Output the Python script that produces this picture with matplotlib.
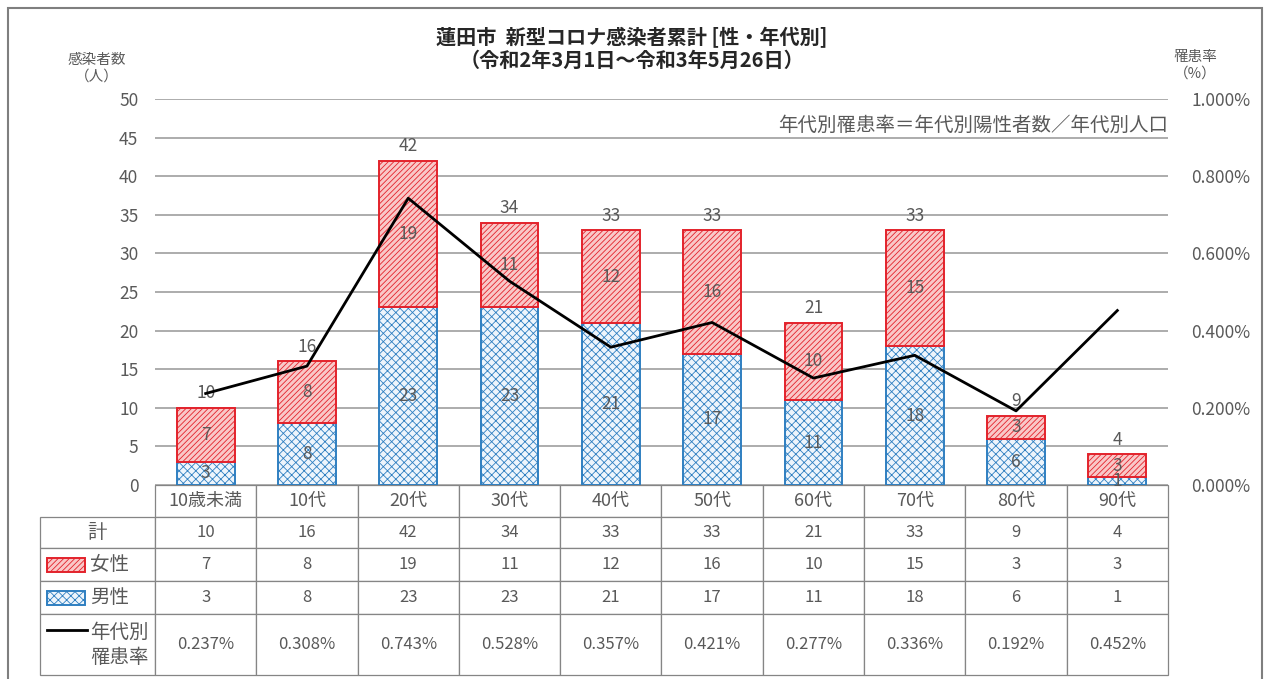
import matplotlib
matplotlib.use('Agg')
import matplotlib.pyplot as plt
from matplotlib.patches import Rectangle
from matplotlib.lines import Line2D
from matplotlib.ticker import FuncFormatter, MultipleLocator

plt.rcParams['font.family'] = ['Noto Sans CJK JP', 'DejaVu Sans']
plt.rcParams['hatch.linewidth'] = 0.6

# データ
cats = ['10歳未満', '10代', '20代', '30代', '40代', '50代', '60代', '70代', '80代', '90代']
female = [7, 8, 19, 11, 12, 16, 10, 15, 3, 3]
male = [3, 8, 23, 23, 21, 17, 11, 18, 6, 1]
total = [10, 16, 42, 34, 33, 33, 21, 33, 9, 4]
rate = [0.237, 0.308, 0.743, 0.528, 0.357, 0.421, 0.277, 0.336, 0.192, 0.452]  # %

txt_gray = '#595959'
red = '#e3222b'
red_fill = '#f9c8c8'
blue = '#2f7fc1'
blue_fill = '#eef5fc'

W, H = 1268, 679
fig = plt.figure(figsize=(W / 100, H / 100), dpi=100)
ax = fig.add_axes([155 / W, 1 - 485 / H, 1013 / W, 386 / H])

x = list(range(len(cats)))
ax.bar(x, male, width=0.57, color=blue_fill, edgecolor=blue, hatch='xxxx', linewidth=1.4, zorder=3)
ax.bar(x, female, width=0.57, bottom=male, color=red_fill, edgecolor=red, hatch='//////', linewidth=1.4, zorder=3)

for i in x:
    ax.text(i, male[i] / 2, str(male[i]), ha='center', va='center', fontsize=12.5, color=txt_gray, zorder=5)
    ax.text(i, male[i] + female[i] / 2, str(female[i]), ha='center', va='center', fontsize=12.5,
            color=txt_gray, zorder=5)
    ax.annotate(str(total[i]), (i, total[i]), xytext=(0, 4), textcoords='offset points',
                ha='center', va='bottom', fontsize=12.5, color=txt_gray, zorder=5)

ax.set_xlim(-0.5, len(cats) - 0.5)
ax.set_ylim(0, 50)
ax.yaxis.set_major_locator(MultipleLocator(5))
ax.grid(axis='y', color='#a6a6a6', linewidth=1.3, zorder=0)
ax.set_axisbelow(True)
for s in ax.spines.values():
    s.set_visible(False)
ax.set_xticks([])
ax.tick_params(axis='y', length=0, pad=12, labelsize=12.5, labelcolor=txt_gray)

ax2 = ax.twinx()
ax2.plot(x, rate, color='black', linewidth=2, zorder=6)
ax2.set_ylim(0, 1.0)
ax2.yaxis.set_major_locator(MultipleLocator(0.2))
ax2.yaxis.set_major_formatter(FuncFormatter(lambda v, p: '%.3f%%' % v))
ax2.tick_params(axis='y', length=0, pad=17, labelsize=12.5, labelcolor=txt_gray)
for s in ax2.spines.values():
    s.set_visible(False)

ax.text(1.0, 46.6, '年代別罹患率＝年代別陽性者数／年代別人口', transform=ax.get_yaxis_transform(),
        ha='right', va='center', fontsize=14, color=txt_gray, zorder=5)

# タイトル・軸タイトル
fig.text(632 / W, 1 - 49 / H, '蓮田市  新型コロナ感染者累計 [性・年代別]\n（令和2年3月1日～令和3年5月26日）',
         ha='center', va='center', fontsize=14.5, fontweight='bold', color='#262626', linespacing=1.15)
fig.text(97 / W, 1 - 68 / H, '感染者数\n（人）', ha='center', va='center', fontsize=10.5,
         color=txt_gray, linespacing=1.2)
fig.text(1195 / W, 1 - 65 / H, '罹患率\n（%）', ha='center', va='center', fontsize=10.5,
         color=txt_gray, linespacing=1.2)

# データテーブル（先頭列が行ラベル）
row_labels = ['計', '女性', '男性', '年代別\n罹患率']
rows = [total, female, male]
cell_text = [[row_labels[k]] + [str(v) for v in rows[k]] for k in range(3)]
cell_text.append([row_labels[3]] + ['%.3f%%' % r for r in rate])
tbl = ax.table(cellText=cell_text, colLabels=[''] + cats, cellLoc='center',
               colWidths=[115 / 1128] + [101.3 / 1128] * 10,
               bbox=[-115 / 1013, -190 / 386, 1128 / 1013, 190 / 386])
tbl.auto_set_font_size(False)
tbl.set_fontsize(12)
row_h = [32, 31, 33, 33, 61]
for (r, c), cell in tbl.get_celld().items():
    cell.set_edgecolor('#858585')
    cell.set_linewidth(0.9)
    cell.set_height(row_h[r])
    cell.get_text().set_color(txt_gray)
    if r == 0:
        cell.get_text().set_fontsize(13)
    if c == 0:
        cell.get_text().set_fontsize(14)
        cell.get_text().set_linespacing(1.25)
        if r > 1:
            cell.PAD = 50 / 115
            cell.get_text().set_ha('left')
tbl[(0, 0)].visible_edges = ''
tbl[(0, 0)].set_facecolor('none')

fig.canvas.draw()

# 凡例マーク
def cell_box(r):
    cl = tbl[(r, 0)]
    return cl.get_x(), cl.get_y(), cl.get_width(), cl.get_height()

px = 1 / 1013
py = 1 / 386
for r, fc, ec, ht in [(2, red_fill, red, '//////'), (3, blue_fill, blue, 'xxxx')]:
    cx, cy, cw, ch = cell_box(r)
    ax.add_patch(Rectangle((cx + 7 * px, cy + ch / 2 - 7 * py), 38 * px, 14 * py, transform=ax.transAxes,
                           facecolor=fc, edgecolor=ec, hatch=ht, linewidth=1.4, clip_on=False, zorder=10))
cx, cy, cw, ch = cell_box(4)
ax.add_line(Line2D([cx + 7 * px, cx + 47 * px], [cy + ch * 0.73] * 2, transform=ax.transAxes,
                   color='black', linewidth=2, clip_on=False, zorder=10))

# 外枠
fig.add_artist(Rectangle((8 / W, -0.02), 1254 / W, 1 - 8 / H + 0.02, transform=fig.transFigure,
                         fill=False, edgecolor='#7f7f7f', linewidth=1.5))

fig.savefig('out.png', dpi=100)
